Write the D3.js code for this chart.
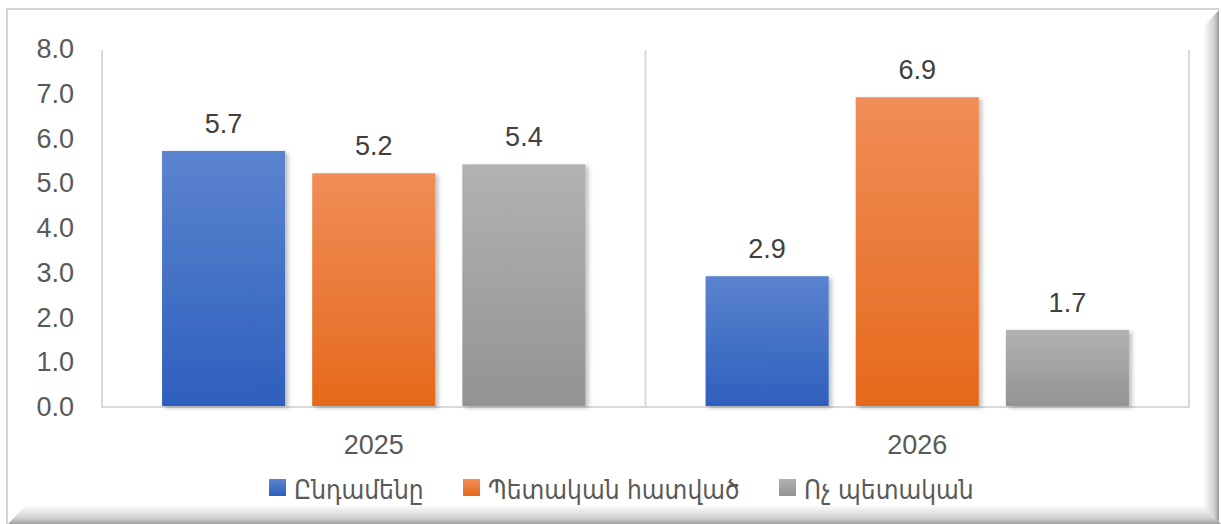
<!DOCTYPE html>
<html>
<head>
<meta charset="utf-8">
<script src="https://cdn.jsdelivr.net/npm/d3@7"></script>
<style>
  body { margin: 0; background: #fff; }
  svg { display: block; }
</style>
</head>
<body>
<div id="chart"></div>
<script>
// data
const years = ["2025", "2026"];
const seriesNames = ["Ընդամենը", "Պետական հատված", "Ոչ պետական"];
const total = [5.7, 2.9];
const state = [5.2, 6.9];
const nonState = [5.4, 1.7];
const yTicks = [0, 1, 2, 3, 4, 5, 6, 7, 8];

const W = 1221, H = 524;
const plot = {left: 102, right: 1189, top: 48, bottom: 406};
const numFont = "'Liberation Sans', Arial, sans-serif";
const armFont = "'DejaVu Sans Condensed', 'DejaVu Sans', sans-serif";

// gradients per series (top, bottom)
const cols = [
  ["#5b84cf", "#2e5fbd"],
  ["#f18d58", "#e5691b"],
  ["#b2b2b2", "#939393"]
];

const svg = d3.select("#chart").append("svg")
  .attr("width", W).attr("height", H);

const defs = svg.append("defs");
cols.forEach(function(c, i) {
  const g = defs.append("linearGradient").attr("id", "g" + i)
    .attr("x1", 0).attr("y1", 0).attr("x2", 0).attr("y2", 1);
  g.append("stop").attr("offset", "0%").attr("stop-color", c[0]);
  g.append("stop").attr("offset", "100%").attr("stop-color", c[1]);
});
const gr = defs.append("linearGradient").attr("id", "bevR")
  .attr("x1", 0).attr("y1", 0).attr("x2", 1).attr("y2", 0);
gr.append("stop").attr("offset", "0%").attr("stop-color", "#fff");
gr.append("stop").attr("offset", "70%").attr("stop-color", "#d0d0d0");
gr.append("stop").attr("offset", "100%").attr("stop-color", "#9a9a9a");
const gb = defs.append("linearGradient").attr("id", "bevB")
  .attr("x1", 0).attr("y1", 0).attr("x2", 0).attr("y2", 1);
gb.append("stop").attr("offset", "0%").attr("stop-color", "#fff");
gb.append("stop").attr("offset", "70%").attr("stop-color", "#d0d0d0");
gb.append("stop").attr("offset", "100%").attr("stop-color", "#9f9f9f");
const sh = defs.append("filter").attr("id", "shadow")
  .attr("x", "-10%").attr("y", "-10%").attr("width", "130%").attr("height", "130%");
sh.append("feDropShadow").attr("dx", 3).attr("dy", 2).attr("stdDeviation", 2)
  .attr("flood-color", "#000").attr("flood-opacity", 0.25);

// frame
svg.append("rect").attr("x", 0).attr("y", 0).attr("width", W).attr("height", H).attr("fill", "#fff");
svg.append("path").attr("d", "M7,524 L7,9 L1219,9").attr("fill", "none")
  .attr("stroke", "#d4d4d4").attr("stroke-width", 2);
svg.append("polygon").attr("points", "1203,27 1219,10 1219,524 1203,506").attr("fill", "url(#bevR)");
svg.append("polygon").attr("points", "8,524 26,505 1203,505 1221,524").attr("fill", "url(#bevB)");

// scales
const x0 = d3.scaleBand().domain(years).range([plot.left, plot.right]);
const x1 = d3.scaleBand().domain(d3.range(3)).range([0, x0.bandwidth()])
  .paddingInner(0.18).paddingOuter(0.4);
const y = d3.scaleLinear().domain([0, 8]).range([plot.bottom, plot.top]);

// category separators and baseline
const grid = svg.append("g").attr("stroke", "#d9d9d9").attr("stroke-width", 2);
[plot.left, x0("2026"), plot.right].forEach(function(xx) {
  grid.append("line").attr("x1", xx).attr("x2", xx)
    .attr("y1", y(8) + 2).attr("y2", plot.bottom + 1);
});
grid.append("line").attr("x1", plot.left - 1).attr("x2", plot.right + 1)
  .attr("y1", plot.bottom + 1).attr("y2", plot.bottom + 1);

// y axis labels
const yAxis = svg.append("g").attr("transform", "translate(74,0)")
  .call(d3.axisLeft(y).tickValues(yTicks).tickFormat(d3.format(".1f")).tickSize(0).tickPadding(0));
yAxis.select(".domain").remove();
yAxis.selectAll("text").attr("fill", "#595959").attr("font-size", 27)
  .attr("font-family", numFont).attr("dy", "0.36em");

// x axis labels
const xAxis = svg.append("g").attr("transform", "translate(0," + plot.bottom + ")")
  .call(d3.axisBottom(x0).tickSize(0).tickPadding(0));
xAxis.select(".domain").remove();
xAxis.selectAll("text").attr("fill", "#595959").attr("font-size", 27)
  .attr("font-family", numFont).attr("dy", 48);

// bars
const series = [total, state, nonState];
const rows = [];
years.forEach(function(yr, i) {
  series.forEach(function(s, j) { rows.push({year: yr, k: j, v: s[i]}); });
});

svg.append("g").selectAll("rect").data(rows).join("rect")
  .attr("x", function(d) { return x0(d.year) + x1(d.k); })
  .attr("y", function(d) { return y(d.v); })
  .attr("width", x1.bandwidth())
  .attr("height", function(d) { return y(0) - y(d.v); })
  .attr("fill", function(d) { return "url(#g" + d.k + ")"; })
  .attr("filter", "url(#shadow)");

svg.append("g").selectAll("text").data(rows).join("text")
  .attr("x", function(d) { return x0(d.year) + x1(d.k) + x1.bandwidth() / 2; })
  .attr("y", function(d) { return y(d.v) - 18; })
  .attr("text-anchor", "middle")
  .attr("fill", "#404040").attr("font-size", 27).attr("font-family", numFont)
  .text(function(d) { return d.v.toFixed(1); });

// legend
const legendX = [269, 463, 779];
const leg = svg.append("g").attr("transform", "translate(0,499)");
seriesNames.forEach(function(n, i) {
  leg.append("rect").attr("x", legendX[i]).attr("y", -20).attr("width", 17).attr("height", 17)
    .attr("fill", "url(#g" + i + ")");
  leg.append("text").attr("x", legendX[i] + 25).attr("y", 0)
    .attr("fill", "#595959").attr("font-size", 26).attr("font-family", armFont)
    .text(n);
});
</script>
</body>
</html>
